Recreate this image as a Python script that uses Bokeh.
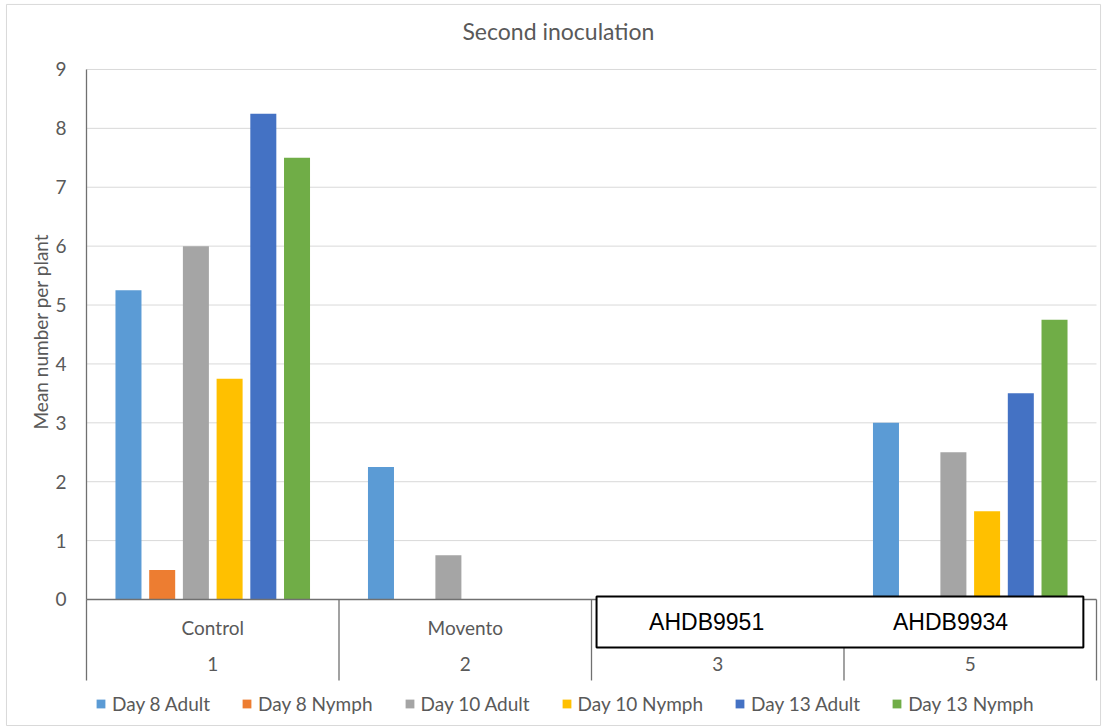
import numpy as np
import pandas as pd
from bokeh.plotting import figure
from bokeh.models import Range1d, ColumnDataSource, Legend, LegendItem
from bokeh.core.properties import value
from bokeh.embed import file_html
from bokeh.resources import INLINE

# ---------------- data ----------------
groups_outer = ["1", "2", "3", "5"]
groups_inner = ["Control", "Movento", "", ""]
series_names = ["Day 8 Adult", "Day 8 Nymph", "Day 10 Adult",
                "Day 10 Nymph", "Day 13 Adult", "Day 13 Nymph"]
day8_adult = [5.25, 2.25, 0, 3.0]
day8_nymph = [0.5, 0, 0, 0]
day10_adult = [6.0, 0.75, 0, 2.5]
day10_nymph = [3.75, 0, 0, 1.5]
day13_adult = [8.25, 0, 0, 3.5]
day13_nymph = [7.5, 0, 0, 4.75]
box_labels = ["AHDB9951", "AHDB9934"]
y_ticks = list(range(0, 10))
title = "Second inoculation"
y_title = "Mean number per plant"

series_values = [day8_adult, day8_nymph, day10_adult,
                 day10_nymph, day13_adult, day13_nymph]
colors = ["#5B9BD5", "#ED7D31", "#A5A5A5", "#FFC000", "#4472C4", "#70AD47"]

TEXT = "#595959"
AXIS = "#707070"
FONT = "Lato"

W, H = 1104, 726
n_groups = len(groups_outer)
centers = np.arange(n_groups) + 0.5
y_top = 9
cat_bottom = -1.375          # lower end of the category-axis area

# the frame covers the whole canvas; ranges chosen so that the value
# axis spans 0..9 and the category axis spans the four groups
p = figure(width=W, height=H, x_range=Range1d(-0.3406, 4.0317),
           y_range=Range1d(-2.1566, 10.171), output_backend="svg",
           toolbar_location=None, x_axis_location=None,
           y_axis_location=None, min_border=0)
p.outline_line_color = None
p.background_fill_color = "white"
p.xgrid.visible = False
p.ygrid.visible = False

# chart-area border
p.quad(left=[-0.317], right=[4.016], top=[10.104], bottom=[-2.14],
       fill_color=None, line_color="#d9d9d9", line_width=1)

# gridlines
grid_y = y_ticks[1:]
p.segment(x0=0, y0=grid_y, x1=n_groups, y1=grid_y, line_color="#d9d9d9",
          line_width=1)

# bars
n = len(series_names)
step = 0.1335
bar_w = 0.103
renderers = []
for i, (name, vals, col) in enumerate(zip(series_names, series_values, colors)):
    src = ColumnDataSource(dict(x=centers + (i - (n - 1) / 2) * step, top=vals))
    r = p.vbar(x="x", top="top", width=bar_w, bottom=0, source=src,
               fill_color=col, line_color=None)
    renderers.append((name, r))

# zero line, value-axis line and category separators
p.segment(x0=[0], y0=[0], x1=[n_groups], y1=[0], line_color=AXIS, line_width=1.3)
p.segment(x0=[0], y0=[y_top], x1=[0], y1=[0], line_color=AXIS, line_width=1.3)
seps = np.arange(n_groups + 1)
p.segment(x0=seps, y0=0, x1=seps, y1=cat_bottom, line_color=AXIS,
          line_width=1.3)

# value-axis tick labels
p.text(x=-0.0792, y=y_ticks, text=[str(t) for t in y_ticks],
       text_font=value(FONT), text_font_size="19px", text_color=TEXT,
       text_align="right", text_baseline="middle")

# category labels
cat_src = ColumnDataSource(dict(x=centers, inner=groups_inner, outer=groups_outer))
p.text(x="x", y=-0.475, text="inner", source=cat_src, text_font=value(FONT),
       text_font_size="19px", text_color=TEXT, text_align="center",
       text_baseline="middle")
p.text(x="x", y=-1.10, text="outer", source=cat_src, text_font=value(FONT),
       text_font_size="19px", text_color=TEXT, text_align="center",
       text_baseline="middle")

# overlay box with labels
p.quad(left=[2.02], right=[3.948], top=[0.05], bottom=[-0.815],
       fill_color="white", line_color="black", line_width=2)
p.text(x=[2.456, 3.422], y=[-0.39, -0.39], text=box_labels,
       text_font=value("Liberation Sans"), text_font_size="23px",
       text_color="black", text_align="center", text_baseline="middle")

# title
p.text(x=[1.869], y=[9.645], text=[title], text_font=value(FONT),
       text_font_size="23px", text_color=TEXT, text_align="center",
       text_baseline="middle")

# y axis title
p.text(x=[-0.182], y=[4.55], text=[y_title], angle=np.pi / 2,
       text_font=value(FONT), text_font_size="19px", text_color=TEXT,
       text_align="center", text_baseline="middle")

legend = Legend(items=[LegendItem(label=nm, renderers=[r]) for nm, r in renderers],
                orientation="horizontal", location=(95, 11), margin=0,
                padding=0, spacing=31, glyph_width=11, glyph_height=11,
                label_standoff=6, label_text_font=FONT,
                label_text_font_size="19px", label_text_color=TEXT,
                border_line_color=None, background_fill_alpha=0)
p.add_layout(legend)

open("out.html", "w").write(file_html(p, INLINE))
